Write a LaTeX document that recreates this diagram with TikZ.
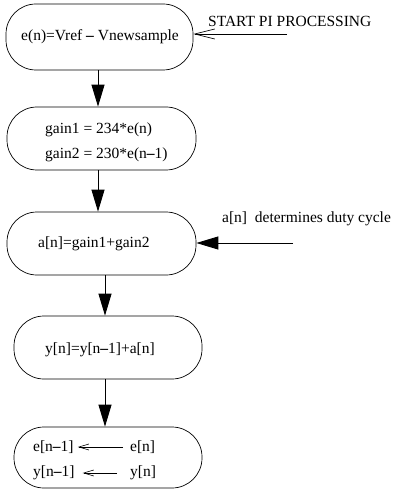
\documentclass[tikz,border=0pt]{standalone}
\usepackage{fontspec}
\setmainfont{Liberation Serif}
\usetikzlibrary{arrows.meta,calc}
\newcommand{\md}{{\bfseries –}}
\begin{document}
\begin{tikzpicture}[x=1pt,y=-1pt,
  every node/.style={font=\fontsize{15.5}{18}\selectfont, inner sep=0pt},
  box/.style={draw, line width=0.7pt, rounded corners=30pt, minimum width=#1},
  box/.default=188pt,
  flow/.style={line width=0.9pt, -{Triangle[length=22pt,width=13pt]}},
  barb/.style={line width=0.7pt, -{Straight Barb[length=20pt,width=10pt]}},
  small/.style={line width=0.6pt, -{Straight Barb[length=10pt,width=6pt]}},
  txt/.style={anchor=west}]
\useasboundingbox (0,0) rectangle (397,489);
% boxes
\node[box=187pt, minimum height=66pt] (b1) at (99.5,37) {};
\node[box=189pt, minimum height=63pt] (b2) at (101.5,138.5) {};
\node[box=189pt, minimum height=63pt] (b3) at (101.5,243.5) {};
\node[box=188pt, minimum height=63pt] (b4) at (108,347.5) {};
\node[box=188pt, minimum height=61pt] (b5) at (108,457.5) {};
% texts
\node (t1) at (100,37) {e(n)=Vref \md{} Vnewsample};
\node[txt] (t2a) at (45,130) {gain1 = 234*e(n)};
\node[txt] (t2b) at (45,155) {gain2 = 230*e(n\md1)};
\node[txt] (t3) at (38,244) {a[n]=gain1+gain2};
\node[txt] (t4) at (45,350) {y[n]=y[n\md1]+a[n]};
\node[txt] (e1) at (33,447) {e[n\md1]};
\node[txt] (e0) at (130,447) {e[n]};
\node[txt] (y1) at (33,473) {y[n\md1]};
\node[txt] (y0) at (130,473) {y[n]};
\node[txt] (start) at (208,21) {START PI PROCESSING};
\node[txt] (duty) at (222,219) {a[n]\ \ determines duty cycle};
% side arrows
\coordinate (sA) at (287,34);
\coordinate (sB) at (293,243);
\draw[barb] (sA) -- (b1.east |- sA);
\draw[flow] (sB) -- (b3.east |- sB);
% flow arrows
\draw[flow] ($(b1.south)+(-1.5,0)$) -- ($(b2.north)+(-3.5,0)$);
\draw[flow] ($(b2.south)+(-3.5,0)$) -- ($(b3.north)+(-3.5,0)$);
\draw[flow] ($(b3.south)+(3.5,0)$) -- ($(b4.north)+(-3,0)$);
\draw[flow] ($(b4.south)+(-3,0)$) -- ($(b5.north)+(-3,0)$);
% inner arrows
\draw[small] ($(e0.west)+(-7,0)$) -- ($(e1.east)+(4,0)$);
\draw[small] ($(y0.west)+(-13,0)$) -- ($(y1.east)+(8,0)$);
\end{tikzpicture}
\end{document}
